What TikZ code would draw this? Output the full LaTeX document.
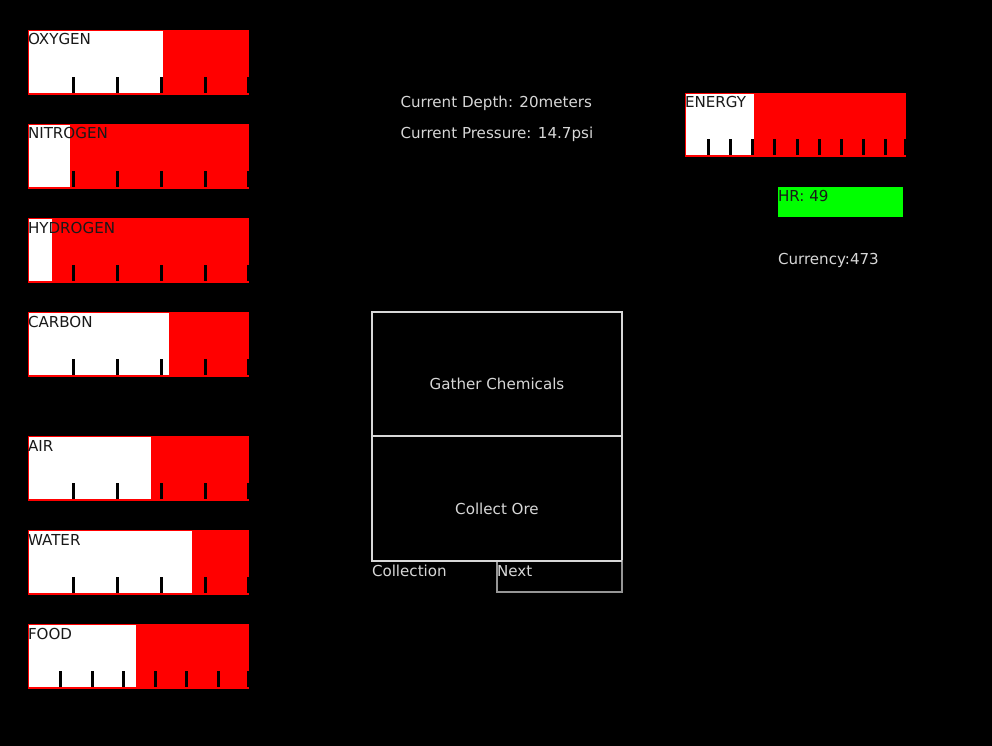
\documentclass[tikz,border=0pt]{standalone}
\usepackage{fontspec}
\setmainfont{DejaVu Sans}
\definecolor{barred}{RGB}{255,0,0}
\definecolor{hrgreen}{RGB}{0,255,0}
\definecolor{lighttext}{RGB}{215,215,215}
\definecolor{darktext}{RGB}{25,25,25}
\definecolor{boxline}{RGB}{215,215,215}
\definecolor{nextline}{RGB}{150,150,150}
\newcommand\resbar[5]{%
  \fill[barred] (28,#1) rectangle (249,#1+65);
  \fill[white] (29,#1+1) rectangle (#2,#1+63);
  \foreach \k in {1,...,#4}{%
    \pgfmathsetmacro\tx{min(28+220/#4*\k,247)}%
    \pgfmathsetmacro\txe{min(\tx+3,249)}%
    \fill[black] (\tx,#1+47) rectangle (\txe,#1+63);
  }
  \node[barlabel] (#5) at (28,#1+15) {#3};
}
\begin{document}
\begin{tikzpicture}[x=1pt,y=-1pt,
  every node/.style={font=\fontsize{15.1}{18}\selectfont, inner sep=0pt, outer sep=0pt},
  barlabel/.style={anchor=base west, text=darktext},
  infotext/.style={anchor=base west, text=lighttext},
  menubox/.style={draw=boxline, line width=2pt},
  menutext/.style={anchor=base, text=lighttext}]
\useasboundingbox (0,0) rectangle (992,746);
\fill[black] (0,0) rectangle (992,746);
% resource bars
\resbar{30}{163}{OXYGEN}{5}{oxygen}
\resbar{124}{70}{NITROGEN}{5}{nitrogen}
\resbar{218}{52}{HYDROGEN}{5}{hydrogen}
\resbar{312}{169}{CARBON}{5}{carbon}
\resbar{436}{151}{AIR}{5}{air}
\resbar{530}{192}{WATER}{5}{water}
\resbar{624}{136}{FOOD}{7}{food}
% energy bar
\fill[barred] (685,93) rectangle (906,157.5);
\fill[white] (686,94) rectangle (754,155.5);
\foreach \k in {1,...,10}{%
  \pgfmathsetmacro\tx{min(685+22.1*\k,904)}%
  \pgfmathsetmacro\txe{min(\tx+3,906)}%
  \fill[black] (\tx,139.5) rectangle (\txe,155.5);
}
\node[barlabel] (energy) at (685,108) {ENERGY};
% heart rate
\fill[hrgreen] (778,187) rectangle (903,217);
\node[barlabel] (hr) at (778,201.5) {HR: 49};
\node[infotext] (currency) at (778,264) {Currency:473};
% depth / pressure
\node[infotext] (depth) at (400.5,108) {Current Depth: 20meters};
\node[infotext] (pressure) at (400.5,138.5) {Current Pressure: 14.7psi};
% menu
\draw[menubox] (372,312) rectangle (622,436);
\draw[menubox] (372,436) rectangle (622,561);
\node[menutext] (gather) at (497,389) {Gather Chemicals};
\node[menutext] (ore) at (497,514) {Collect Ore};
\draw[draw=nextline, line width=2pt] (497,561) rectangle (622,592);
\draw[menubox] (372,561) -- (622,561);
\node[infotext] (collection) at (372,576.5) {Collection};
\node[infotext] (next) at (497,576.5) {Next};
\end{tikzpicture}
\end{document}
